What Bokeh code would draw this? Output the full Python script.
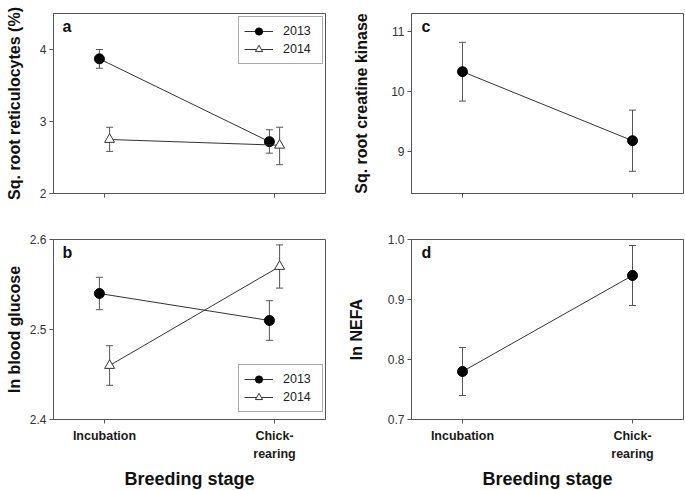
from bokeh.plotting import figure
from bokeh.models import (Range1d, FixedTicker, Whisker, TeeHead, ColumnDataSource,
                          Legend, LegendItem, Label, PrintfTickFormatter)
from bokeh.layouts import row, column
from bokeh.embed import file_html
from bokeh.resources import INLINE

# ---------------- data ----------------
stage_pos = [1, 2]
stage_labels = ["Incubation", "Chick-\nrearing"]
year_offset = {"2013": -0.03, "2014": 0.03}

# (a) Sq. root reticulocytes (%)
ret_2013 = [3.87, 2.72]
ret_2013_lo = [3.74, 2.56]
ret_2013_hi = [4.00, 2.885]
ret_2014 = [2.75, 2.67]
ret_2014_lo = [2.585, 2.40]
ret_2014_hi = [2.92, 2.92]

# (b) ln blood glucose
glu_2013 = [2.54, 2.51]
glu_2013_lo = [2.522, 2.488]
glu_2013_hi = [2.558, 2.532]
glu_2014 = [2.46, 2.57]
glu_2014_lo = [2.438, 2.546]
glu_2014_hi = [2.482, 2.594]

# (c) Sq. root creatine kinase
ck = [10.33, 9.18]
ck_lo = [9.84, 8.67]
ck_hi = [10.82, 9.69]

# (d) ln NEFA
nefa = [0.78, 0.94]
nefa_lo = [0.74, 0.89]
nefa_hi = [0.82, 0.99]

FONT = "Liberation Sans"
GREY = "#555555"


def make_fig(yr, yticks, fmt, ylabel, letter, show_x, fw, mbl, mbr, mbt, mbb, ylab_standoff, letter_dx):
    p = figure(frame_width=fw, frame_height=180,
               x_range=Range1d(0.7, 2.3), y_range=Range1d(*yr),
               output_backend="svg", toolbar_location=None,
               min_border_left=mbl, min_border_right=mbr,
               min_border_top=mbt, min_border_bottom=mbb)
    p.xgrid.visible = False
    p.ygrid.visible = False
    p.outline_line_color = GREY
    p.outline_line_width = 1
    p.background_fill_color = "white"
    p.border_fill_color = "white"

    for ax in (p.xaxis[0], p.yaxis[0]):
        ax.axis_line_color = GREY
        ax.major_tick_line_color = GREY
        ax.major_tick_out = 4
        ax.major_tick_in = 0
        ax.minor_tick_out = 0
        ax.minor_tick_in = 0
        ax.major_label_text_font = FONT

    xa = p.xaxis[0]
    xa.ticker = FixedTicker(ticks=stage_pos)
    if show_x:
        xa.major_label_overrides = {k: v for k, v in zip(stage_pos, stage_labels)}
        xa.major_label_text_font_style = "bold"
        xa.major_label_text_font_size = "12.5px"
        xa.major_label_text_line_height = 1.35
        xa.major_label_text_color = "#1a1a1a"
        xa.major_label_standoff = 5
        xa.axis_label = "Breeding stage"
        xa.axis_label_text_font = FONT
        xa.axis_label_text_font_style = "bold"
        xa.axis_label_text_font_size = "18px"
        xa.axis_label_text_color = "#111111"
        xa.axis_label_standoff = 5
    else:
        xa.major_label_overrides = {k: "" for k in stage_pos}

    ya = p.yaxis[0]
    ya.ticker = FixedTicker(ticks=yticks)
    ya.formatter = PrintfTickFormatter(format=fmt)
    ya.major_label_text_font_size = "12px"
    ya.major_label_text_color = "#333333"
    ya.major_label_standoff = 3
    ya.axis_label = ylabel
    ya.axis_label_text_font = FONT
    ya.axis_label_text_font_style = "bold"
    ya.axis_label_text_font_size = "16px"
    ya.axis_label_text_color = "#111111"
    ya.axis_label_standoff = ylab_standoff

    p.add_layout(Label(x=letter_dx, y=159, x_units="screen", y_units="screen", text=letter,
                       text_font=FONT, text_font_style="bold", text_font_size="16px",
                       text_color="#111111"))
    return p


def add_series(p, y, lo, hi, off, filled):
    xs = [x + off for x in stage_pos]
    src = ColumnDataSource(dict(x=xs, y=y, lo=lo, hi=hi))
    line = p.line("x", "y", source=src, line_color="#333333", line_width=1)
    w = Whisker(base="x", lower="lo", upper="hi", source=src, line_color=GREY, line_width=1,
                level="underlay",
                upper_head=TeeHead(size=7, line_color=GREY, line_width=1),
                lower_head=TeeHead(size=7, line_color=GREY, line_width=1))
    p.add_layout(w)
    if filled:
        m = p.scatter("x", "y", source=src, marker="circle", size=10,
                      fill_color="black", line_color="black")
    else:
        m = p.scatter("x", "y", source=src, marker="triangle", size=10,
                      fill_color="white", line_color="#333333", line_width=1)
    return line, m


def add_legend(p, items_r, loc):
    items = [LegendItem(label=lab, renderers=list(rs)) for lab, rs in items_r]
    lg = Legend(items=items, location=loc, margin=0, padding=5, spacing=0,
                glyph_width=29, glyph_height=18, label_standoff=10, label_width=34,
                label_height=18,
                label_text_font=FONT, label_text_font_size="12.5px", label_text_color="#222222",
                border_line_color=GREY, border_line_width=1, background_fill_alpha=1)
    p.add_layout(lg)


# panel a
pa = make_fig((2, 4.5), [2, 3, 4], "%d", "Sq. root reticulocytes (%)", "a", False,
              272, 53, 16, 13, 20, 14, 9)
ra1 = add_series(pa, ret_2013, ret_2013_lo, ret_2013_hi, year_offset["2013"], True)
ra2 = add_series(pa, ret_2014, ret_2014_lo, ret_2014_hi, year_offset["2014"], False)
add_legend(pa, [("2013", ra1), ("2014", ra2)], (185, 129))

# panel b
pb = make_fig((2.4, 2.6), [2.4, 2.5, 2.6], "%.1f", "ln blood glucose", "b", True,
              272, 53, 16, 26, 63, 4, 9)
rb1 = add_series(pb, glu_2013, glu_2013_lo, glu_2013_hi, year_offset["2013"], True)
rb2 = add_series(pb, glu_2014, glu_2014_lo, glu_2014_hi, year_offset["2014"], False)
add_legend(pb, [("2013", rb1), ("2014", rb2)], (185, 7))

# panel c
pc = make_fig((8.3, 11.3), [9, 10, 11], "%d", "Sq. root creatine kinase", "c", False,
              272, 70, 1, 13, 20, 18, 10)
add_series(pc, ck, ck_lo, ck_hi, 0, True)

# panel d
pd_ = make_fig((0.7, 1.0), [0.7, 0.8, 0.9, 1.0], "%.1f", "ln NEFA", "d", True,
               272, 70, 1, 26, 63, 20, 10)
add_series(pd_, nefa, nefa_lo, nefa_hi, 0, True)

layout = row(column(pa, pb), column(pc, pd_))

open("out.html", "w").write(file_html(layout, INLINE))
